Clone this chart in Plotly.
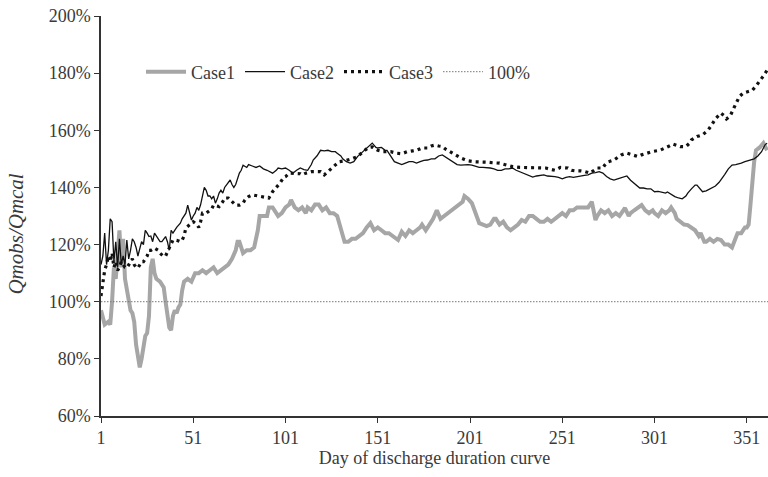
import plotly.graph_objects as go

# Ratio Qmobs/Qmcal (%) along the discharge duration curve
case1_day = [1, 2, 3, 5, 6, 7, 8, 9, 10, 11, 12, 13, 14, 15, 16, 17, 18, 19, 20, 21, 22, 23, 24, 25, 26, 27, 28, 29, 30, 31,
             33, 35, 36, 37, 38, 39, 40, 41, 42, 43, 44, 45, 46, 48, 50, 52, 54, 56, 58, 60, 62, 64, 66, 68, 70, 72, 74, 75,
             76, 78, 80, 82, 84, 86, 87, 89, 91, 92, 94, 96, 97, 99, 101, 103, 104, 106, 108, 110, 112, 113, 115, 117, 119,
             121, 123, 125, 127, 129, 130, 132, 133, 135, 137, 139, 141, 143, 145, 147, 149, 151, 153, 155, 157, 159, 161,
             162, 164, 166, 168, 170, 172, 174, 175, 177, 179, 181, 183, 185, 187, 189, 191, 193, 195, 197, 198, 200, 202,
             204, 206, 208, 210, 212, 214, 215, 217, 219, 221, 223, 225, 227, 229, 231, 233, 235, 237, 239, 241, 243, 245,
             247, 249, 251, 253, 255, 257, 259, 261, 263, 265, 267, 268, 269, 270, 272, 274, 276, 278, 280, 282, 284, 285,
             287, 288, 290, 292, 294, 296, 298, 300, 301, 303, 305, 307, 309, 310, 312, 313, 315, 317, 319, 321, 323, 325,
             326, 328, 329, 331, 333, 335, 337, 339, 341, 343, 344, 346, 348, 350, 351, 352, 353, 354, 355, 356, 358, 360, 362]
case1_val = [97, 95, 92, 93, 92, 100, 112, 108, 118, 125, 112, 122, 108, 104, 100, 97, 96, 93, 85, 80, 77, 80, 85, 88, 89, 95,
             112, 115, 110, 108, 107, 105, 100, 94, 91, 90, 95, 97, 96, 98, 99, 104, 107, 108, 107, 110, 110, 111, 110, 111,
             112, 110, 111, 112, 113, 115, 118, 121, 121, 117, 118, 118, 119, 125, 130, 130, 130, 133, 133, 131, 130, 131, 133,
             134, 135.6, 133, 132, 133, 131, 133, 132, 134, 134, 132, 133, 131, 131, 130, 128, 124, 121, 121, 122, 122, 123,
             124, 126, 127.5, 125, 126, 125, 124, 124, 123, 122, 121.6, 124.5, 123, 125, 124, 125, 126, 127, 125, 127, 129,
             132, 129, 130, 131, 132, 133, 134, 135, 137, 136, 134.5, 131, 127.5, 127, 126.5, 127, 129, 129, 127, 128, 126,
             125, 126, 127, 128.6, 128, 130, 130, 129, 128, 128, 129, 128, 129, 130, 131, 130, 132, 132, 133, 133, 133, 133,
             135, 131, 128.6, 130, 132, 131, 132, 130, 131, 130, 132, 132.8, 130, 131, 132, 133, 133.8, 132, 131, 132, 131,
             130, 132, 131, 132, 133, 131, 129, 128, 127, 126.8, 126, 125, 123, 124, 121, 121, 122, 121, 122, 121.6, 120, 120,
             119, 121, 124, 124, 126, 126, 127, 134, 142, 149, 153, 154, 155.5, 153]

case2_day = [1, 2, 3, 4, 5, 6, 7, 8, 9, 10, 11, 12, 13, 14, 15, 16, 17, 18, 19, 20, 21, 22, 23, 24, 25, 26, 27, 28, 29, 30,
             31, 32, 33, 34, 35, 36, 37, 38, 39, 40, 42, 44, 45, 46, 47, 48, 49, 50, 51, 52, 53, 54, 55, 56, 57, 58, 59, 60,
             61, 62, 63, 64, 65, 66, 67, 68, 70, 71, 72, 73, 74, 75, 76, 77, 78, 80, 81, 83, 85, 87, 89, 91, 93, 94, 96, 97,
             99, 101, 103, 105, 107, 109, 111, 113, 115, 116, 118, 120, 122, 124, 126, 128, 129, 131, 132, 134, 136, 138, 140,
             142, 144, 146, 148, 150, 151, 153, 155, 156, 158, 160, 162, 164, 166, 168, 170, 172, 174, 176, 178, 180, 182,
             184, 186, 188, 190, 192, 194, 196, 198, 200, 202, 204, 206, 208, 210, 212, 214, 216, 218, 220, 222, 224, 226,
             228, 230, 232, 234, 235, 237, 239, 241, 243, 245, 247, 249, 251, 253, 255, 257, 259, 261, 263, 265, 267, 269,
             271, 273, 275, 277, 279, 281, 283, 285, 286, 288, 289, 291, 293, 295, 297, 299, 301, 303, 305, 307, 308, 310,
             312, 314, 316, 318, 319, 321, 323, 324, 326, 327, 329, 331, 332, 334, 336, 337, 339, 341, 343, 345, 347, 348,
             350, 352, 354, 355, 357, 359, 361, 362]
case2_val = [113, 116, 124, 113, 118, 129, 128, 114, 121, 112, 122, 113, 116, 113, 121.6, 115, 118, 122, 121, 119, 116, 119,
             121, 120, 125, 124, 122.8, 123, 121, 124, 123, 122, 121, 121, 122, 122.8, 121, 118, 125, 124, 126, 127.5, 129,
             130, 131, 133.8, 131, 128.6, 130, 131, 133, 132, 134, 137, 140, 139, 137, 137, 136, 137, 134.5, 136, 138, 139,
             138, 140, 142, 142.6, 141, 140, 141, 143, 145, 146, 147.8, 147, 148, 147.5, 147, 147.5, 146.5, 146, 145.5, 145,
             146, 146.8, 146.5, 146.8, 146, 145, 146, 146.8, 146.2, 146, 148, 149.6, 151, 153, 152.8, 153, 152.5, 152.5, 152,
             151, 150, 149, 148.5, 149, 150.8, 152, 153, 154.5, 155.5, 154, 153.8, 154, 153, 153, 151, 149, 148.5, 148,
             148.5, 149, 149, 148.5, 149, 149.5, 149.6, 150, 150, 151, 151.4, 150.5, 149.6, 149, 148, 147.8, 148, 148, 147.8,
             147.5, 147, 147, 147, 146.8, 146.5, 146, 146, 146.5, 146.5, 146.8, 146, 145.5, 145, 144.5, 143.8, 143.6, 144,
             144.2, 144.4, 144, 144, 143.8, 143.5, 143, 143.5, 143.8, 143.5, 143.8, 144, 144.2, 144.4, 145, 145.2, 145.5, 145,
             143.8, 143, 142.6, 143, 143.5, 144, 144, 142.5, 142, 141, 139.8, 139.8, 139.5, 139.5, 138.5, 138.6, 138.2, 138,
             138.4, 137.5, 136.8, 136.3, 136, 137, 138, 139.5, 140.8, 140.8, 139, 138.5, 138.8, 139.5, 139.8, 140.5, 141.8,
             142.6, 144.5, 146.5, 147.8, 148, 148.2, 148.5, 149, 149.5, 150, 150, 151, 152.5, 155, 155.5]

case3_day = [1, 2, 3, 4, 5, 6, 7, 8, 9, 10, 11, 12, 13, 14, 15, 16, 17, 18, 19, 20, 21, 22, 23, 24, 25, 26, 27, 28, 30, 32,
             33, 35, 36, 37, 38, 40, 42, 44, 45, 46, 47, 49, 51, 53, 54, 55, 56, 58, 59, 61, 62, 64, 65, 67, 68, 70, 72, 74,
             76, 78, 79, 81, 83, 85, 87, 88, 90, 92, 94, 96, 98, 100, 101, 103, 105, 107, 109, 110, 112, 115, 118, 120, 122,
             124, 126, 128, 130, 133, 135, 137, 140, 142, 144, 146, 148, 151, 154, 158, 161, 164, 167, 170, 172, 175, 178,
             180, 182, 184, 186, 188, 190, 192, 194, 196, 198, 200, 203, 207, 211, 214, 217, 221, 224, 228, 232, 235, 239,
             242, 245, 247, 250, 254, 256, 258, 261, 263, 266, 268, 270, 273, 274, 276, 279, 281, 283, 286, 289, 292, 294,
             297, 300, 304, 307, 309, 311, 313, 315, 318, 320, 321, 324, 327, 330, 332, 334, 337, 339, 340, 342, 344, 346,
             347, 349, 351, 354, 356, 357, 359, 360, 362]
case3_val = [102, 106, 111, 113, 116, 114, 117, 112, 114, 111, 112, 114, 113, 112, 111.8, 113, 114, 115, 113, 112, 111.8, 113,
             114, 114, 115, 116, 118, 118, 118.8, 118, 117, 115.8, 116, 117.5, 119, 121.6, 121.5, 121, 121.6, 123, 125.8, 127,
             128, 127, 126, 128, 131, 131, 131.5, 132.5, 133.8, 133.5, 133.3, 135, 136.3, 136.3, 135, 133.8, 133.8, 134.5,
             135.6, 136.8, 137.4, 137.2, 137, 136.8, 136.5, 136.3, 138.5, 140, 141.5, 143.5, 143.8, 145, 145, 145, 144.8,
             144.4, 145, 145.5, 145.5, 145.5, 144.4, 145.5, 146.8, 148, 149, 149.3, 149.6, 150, 150.8, 152, 153, 154, 154.2,
             153, 152.5, 152.5, 152, 151.8, 152.5, 152.8, 153, 153.8, 153.8, 154.5, 154.8, 154.5, 154.3, 153.3, 152.5, 151.8,
             151, 150.3, 149.8, 149.3, 149, 149, 148.8, 148.6, 148.5, 147.8, 147.3, 147, 147, 147, 147, 146.8, 146.3, 146,
             147, 146.8, 146, 145.8, 145.8, 145.6, 145, 146, 146.8, 146.8, 147.8, 149, 149.6, 150.5, 151.4, 152, 151.4,
             150.8, 151.4, 152, 152.6, 153, 153.8, 154.5, 155.2, 154.8, 154.3, 154.3, 155.5, 156.6, 157.8, 158.4, 160, 161.9,
             164, 166, 165, 164, 165, 167.8, 170.5, 171.8, 173, 173.5, 174, 175.5, 176.5, 178.5, 179, 181]

ref_day = [1, 365]
ref_val = [100, 100]

x_ticks = [1, 51, 101, 151, 201, 251, 301, 351]
y_ticks = [60, 80, 100, 120, 140, 160, 180, 200]
y_tick_text = [f"{v}%" for v in y_ticks]

SERIF = "Liberation Serif, Times New Roman, serif"
TXT = "#3a3a3a"

fig = go.Figure()
fig.add_trace(go.Scatter(x=case1_day, y=case1_val, mode="lines", name="Case1",
                         line=dict(color="#a6a6a6", width=4)))
fig.add_trace(go.Scatter(x=case2_day, y=case2_val, mode="lines", name="Case2",
                         line=dict(color="#111111", width=1.3)))
fig.add_trace(go.Scatter(x=case3_day, y=case3_val, mode="lines", name="Case3",
                         line=dict(color="#111111", width=3.2, dash="3px,4px")))
fig.add_trace(go.Scatter(x=ref_day, y=ref_val, mode="lines", name="100%",
                         line=dict(color="#777777", width=1, dash="1.5px,1.5px")))

fig.update_layout(
    width=768, height=477,
    margin=dict(l=101, r=0, t=16, b=61),
    paper_bgcolor="white", plot_bgcolor="white",
    font=dict(family=SERIF, size=18, color=TXT),
    showlegend=True,
    legend=dict(orientation="h", x=0.06, y=0.86, xanchor="left", yanchor="middle",
                bgcolor="rgba(0,0,0,0)", font=dict(size=18, color=TXT),
                itemwidth=40, tracegroupgap=0),
    xaxis=dict(range=[1, 362.5], tickvals=x_ticks, ticks="outside", ticklen=5,
               tickcolor="#333", showline=True, linecolor="#333", linewidth=1.5,
               showgrid=False, zeroline=False,
               title=dict(text="Day of discharge duration curve", standoff=2,
                          font=dict(size=18))),
    yaxis=dict(range=[60, 200], tickvals=y_ticks, ticktext=y_tick_text, ticks="outside", ticklen=5,
               tickcolor="#333", showline=True, linecolor="#333", linewidth=1.5,
               showgrid=False, zeroline=False),
    annotations=[dict(text="<i>Qmobs/Qmcal</i>", x=-0.128, y=0.455, xref="paper", yref="paper",
                      textangle=-90, showarrow=False, font=dict(size=21, color=TXT),
                      xanchor="center", yanchor="middle")],
)

fig.write_html("out.html")
